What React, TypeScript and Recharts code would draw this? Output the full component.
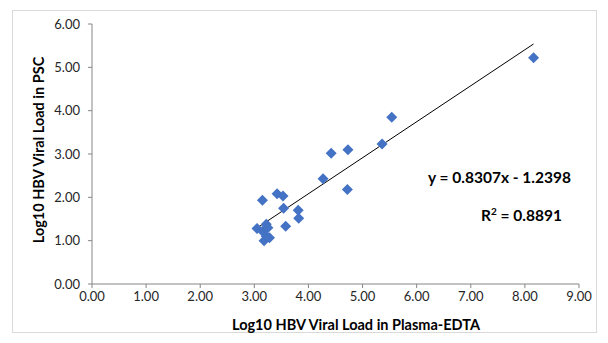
import React from "react";
import {
  ReferenceLine,
  Scatter,
  ScatterChart,
  XAxis,
  YAxis,
} from "recharts";

// Log10 viral load, plasma-EDTA (x) vs PSC (y)
const plasmaEdta = [
  3.05, 3.15, 3.18, 3.22, 3.28, 3.22, 3.25, 3.15, 3.42, 3.53, 3.54, 3.58, 3.81,
  3.82, 4.27, 4.42, 4.73, 4.72, 5.36, 5.54, 8.16,
];
const psc = [
  1.28, 1.22, 1.0, 1.1, 1.07, 1.38, 1.3, 1.93, 2.08, 2.03, 1.75, 1.33, 1.7,
  1.52, 2.43, 3.02, 3.1, 2.18, 3.23, 3.85, 5.22,
];
const xTicks = [0, 1, 2, 3, 4, 5, 6, 7, 8, 9];
const yTicks = [0, 1, 2, 3, 4, 5, 6];
const slope = 0.8307;
const intercept = -1.2398;
const rSquared = 0.8891;

const points = plasmaEdta.map((x, i) => ({ x, y: psc[i] }));
const xMin = Math.min(...plasmaEdta);
const xMax = Math.max(...plasmaEdta);
const trend = [
  { x: xMin, y: slope * xMin + intercept },
  { x: xMax, y: slope * xMax + intercept },
];

const FONT = "Lato, 'Open Sans', sans-serif";
const tickStyle = { fill: "#262626", fontSize: 13, fontFamily: FONT };

function Diamond(props: any) {
  const { cx, cy } = props;
  const r = 5.5;
  return (
    <polygon
      points={`${cx},${cy - r} ${cx + r},${cy} ${cx},${cy + r} ${cx - r},${cy}`}
      fill="#4472C4"
    />
  );
}

export default function App() {
  return (
    <div style={{ position: "absolute", left: 0, top: 0, width: 608, height: 343, background: "#fff" }}>
      <div
        style={{
          position: "absolute",
          left: 12,
          top: 10,
          width: 585,
          height: 323,
          border: "1px solid #d9d9d9",
          boxSizing: "border-box",
        }}
      />
      <ScatterChart
        width={608}
        height={343}
        margin={{ top: 24, right: 29, left: 52, bottom: 28 }}
        style={{ position: "absolute", left: 0, top: 0 }}
      >
        <XAxis
          type="number"
          dataKey="x"
          domain={[0, 9]}
          ticks={xTicks}
          tickFormatter={(v: number) => v.toFixed(2)}
          tick={tickStyle}
          stroke="#868686"
          tickSize={4}
          tickMargin={4}
          height={31}
          interval={0}
        />
        <YAxis
          type="number"
          dataKey="y"
          domain={[0, 6]}
          ticks={yTicks}
          tickFormatter={(v: number) => v.toFixed(2)}
          tick={tickStyle}
          stroke="#868686"
          tickSize={4}
          tickMargin={8}
          width={40}
          interval={0}
        />
        <ReferenceLine
          segment={trend}
          stroke="#000"
          strokeWidth={1}
          ifOverflow="visible"
        />
        <Scatter data={points} shape={<Diamond />} isAnimationActive={false} />
      </ScatterChart>
      <div
        style={{
          position: "absolute",
          left: 356,
          top: 316,
          transform: "translateX(-50%)",
          whiteSpace: "nowrap",
          fontFamily: FONT,
          fontWeight: 700,
          fontSize: 14.5,
          color: "#000",
        }}
      >
        Log10 HBV Viral Load in Plasma-EDTA
      </div>
      <div
        style={{
          position: "absolute",
          left: 38,
          top: 150,
          transform: "translate(-50%, -50%) rotate(-90deg)",
          whiteSpace: "nowrap",
          fontFamily: FONT,
          fontWeight: 700,
          fontSize: 14.5,
          color: "#000",
        }}
      >
        Log10 HBV Viral Load in PSC
      </div>
      <div
        style={{
          position: "absolute",
          left: 428,
          top: 168,
          fontFamily: FONT,
          fontWeight: 700,
          fontSize: 15.5,
          color: "#000",
          whiteSpace: "nowrap",
        }}
      >
        y = {slope}x - {Math.abs(intercept)}
      </div>
      <div
        style={{
          position: "absolute",
          left: 481,
          top: 205,
          fontFamily: FONT,
          fontWeight: 700,
          fontSize: 15.5,
          color: "#000",
          whiteSpace: "nowrap",
        }}
      >
        R<sup style={{ fontSize: 10 }}>2</sup> = {rSquared}
      </div>
    </div>
  );
}
